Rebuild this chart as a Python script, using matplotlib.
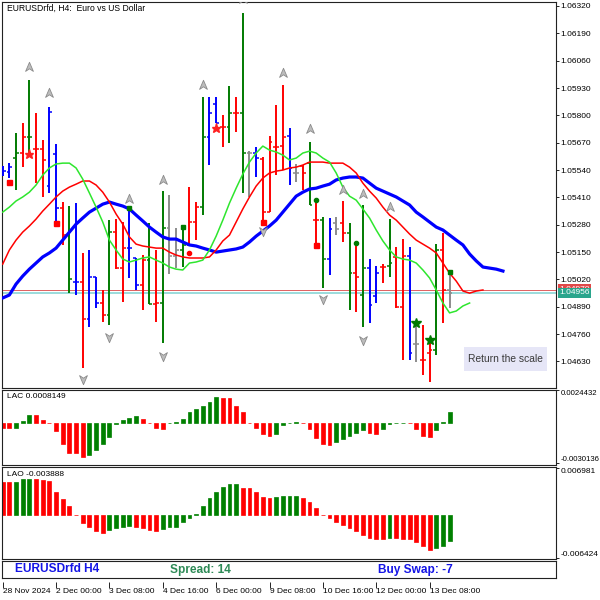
#!/usr/bin/env python3
"""EURUSD H4 bar chart with alligator lines, fractals and AC / AO sub-windows (terminal style)."""
import numpy as np
import matplotlib
matplotlib.use('Agg')
import matplotlib.pyplot as plt
from matplotlib.path import Path
from matplotlib.patches import Rectangle

plt.rcParams['font.family'] = ['Liberation Sans', 'DejaVu Sans']

# ---- price bars: b=blue, g=green, r=red, a=gray ----
bar_color = "bbgrgrrbbr" "gbrbbrgrrb" "brgrgaagrr" "gbbrgrgabr" "rrrbargrgb" "argrgbbrgr" "rbarrgra"
bar_high = [1.05559, 1.05573, 1.05716, 1.05763, 1.05968, 1.05811, 1.05683, 1.05839, 1.05664, 1.05388,
            1.05369, 1.05383, 1.05146, 1.05160, 1.05031, 1.04970, 1.05302, 1.05307, 1.05293, 1.05364,
            1.05122, 1.05136, 1.05288, 1.05160, 1.05440, 1.05421, 1.05264, 1.05255, 1.05459, 1.05388,
            1.05887, 1.05887, 1.05887, 1.05801, 1.05939, 1.05887, 1.06286, 1.05630, 1.05649, 1.05602,
            1.05702, 1.05849, 1.05944, 1.05740, 1.05569, 1.05564, 1.05673, 1.05383, 1.05317, 1.05312,
            1.05317, 1.05393, 1.05288, 1.05184, 1.05374, 1.05117, 1.05084, 1.05093, 1.05307, 1.05174,
            1.05212, 1.05174, 1.04818, 1.04803, 1.04723, 1.05188, 1.05241, 1.05060]
bar_low = [1.05512, 1.05502, 1.05445, 1.05554, 1.05611, 1.05478, 1.05412, 1.05431, 1.05293, 1.05184,
           1.04955, 1.04946, 1.04599, 1.04794, 1.04884, 1.04818, 1.04803, 1.05069, 1.04913, 1.05027,
           1.04970, 1.04875, 1.04903, 1.04818, 1.04718, 1.05046, 1.05074, 1.05079, 1.05184, 1.05207,
           1.05326, 1.05564, 1.05763, 1.05649, 1.05668, 1.05721, 1.05431, 1.05412, 1.05507, 1.05302,
           1.05340, 1.05516, 1.05540, 1.05469, 1.05483, 1.05445, 1.05374, 1.05174, 1.04979, 1.05041,
           1.05231, 1.05198, 1.04875, 1.04865, 1.04794, 1.04813, 1.04908, 1.05003, 1.05031, 1.04884,
           1.04637, 1.04637, 1.04627, 1.04566, 1.04532, 1.04661, 1.04813, 1.04884]
bar_open = [1.05535, 1.05530, 1.05597, 1.05621, 1.05697, 1.05640, 1.05640, 1.05464, 1.05616, 1.05359,
            1.05231, 1.05008, 1.05008, 1.04832, 1.05031, 1.04908, 1.04851, 1.05245, 1.05074, 1.05169,
            1.05122, 1.04993, 1.05112, 1.04903, 1.04908, 1.05264, 1.05131, 1.05160, 1.05184, 1.05293,
            1.05364, 1.05697, 1.05854, 1.05744, 1.05744, 1.05811, 1.05811, 1.05621, 1.05621, 1.05592,
            1.05340, 1.05649, 1.05654, 1.05702, 1.05526, 1.05559, 1.05573, 1.05302, 1.05302, 1.05117,
            1.05288, 1.05288, 1.05241, 1.05050, 1.04946, 1.05074, 1.04941, 1.05079, 1.05084, 1.05127,
            1.04889, 1.05131, 1.04713, 1.04637, 1.04670, 1.04684, 1.05160, 1.04970]
bar_close = [1.05535, 1.05554, 1.05621, 1.05697, 1.05697, 1.05640, 1.05588, 1.05816, 1.05359, 1.05231,
             1.05022, 1.05008, 1.04832, 1.05031, 1.04908, 1.04851, 1.05245, 1.05074, 1.05169, 1.05169,
             1.04993, 1.05112, 1.04903, 1.04908, 1.05264, 1.05131, 1.05160, 1.05184, 1.05293, 1.05364,
             1.05697, 1.05811, 1.05763, 1.05744, 1.05811, 1.05811, 1.05621, 1.05621, 1.05597, 1.05340,
             1.05673, 1.05649, 1.05697, 1.05550, 1.05526, 1.05526, 1.05374, 1.05302, 1.05117, 1.05260,
             1.05260, 1.05241, 1.05050, 1.05031, 1.05074, 1.04898, 1.05050, 1.05079, 1.05098, 1.04889,
             1.05131, 1.04670, 1.04713, 1.04637, 1.04684, 1.05160, 1.04970, 1.04955]

# ---- alligator (jaw / teeth / lips, already shifted forward) ----
jaw = [1.04932, 1.04946, 1.04998, 1.05036, 1.05069, 1.05098, 1.05127, 1.05146, 1.05169, 1.05207,
       1.05245, 1.05283, 1.05312, 1.05340, 1.05359, 1.05378, 1.05388, 1.05378, 1.05369, 1.05355,
       1.05326, 1.05298, 1.05269, 1.05245, 1.05222, 1.05212, 1.05212, 1.05198, 1.05184, 1.05179,
       1.05169, 1.05160, 1.05150, 1.05155, 1.05160, 1.05165, 1.05174, 1.05198, 1.05226, 1.05250,
       1.05274, 1.05302, 1.05340, 1.05378, 1.05416, 1.05435, 1.05450, 1.05454, 1.05464, 1.05473,
       1.05493, 1.05502, 1.05507, 1.05507, 1.05502, 1.05478, 1.05454, 1.05440, 1.05426, 1.05412,
       1.05393, 1.05374, 1.05340, 1.05317, 1.05293, 1.05269, 1.05255, 1.05231, 1.05207, 1.05184,
       1.05141, 1.05108, 1.05079, 1.05074, 1.05069, 1.05060]
teeth = [1.05093, 1.05160, 1.05207, 1.05245, 1.05274, 1.05307, 1.05345, 1.05378, 1.05412, 1.05440,
         1.05459, 1.05473, 1.05488, 1.05488, 1.05469, 1.05435, 1.05388, 1.05331, 1.05283, 1.05222,
         1.05188, 1.05179, 1.05174, 1.05169, 1.05169, 1.05150, 1.05136, 1.05127, 1.05122, 1.05122,
         1.05122, 1.05127, 1.05160, 1.05203, 1.05231, 1.05293, 1.05355, 1.05412, 1.05464, 1.05502,
         1.05526, 1.05535, 1.05540, 1.05550, 1.05554, 1.05564, 1.05578, 1.05578, 1.05578, 1.05573,
         1.05573, 1.05573, 1.05554, 1.05526, 1.05478, 1.05440, 1.05407, 1.05364, 1.05326, 1.05302,
         1.05269, 1.05236, 1.05207, 1.05188, 1.05169, 1.05146, 1.05098, 1.05050, 1.05012, 1.04965,
         1.04955, 1.04965, 1.04970]
lips = [1.05340, 1.05364, 1.05393, 1.05412, 1.05435, 1.05469, 1.05516, 1.05550, 1.05569, 1.05573,
        1.05573, 1.05550, 1.05497, 1.05431, 1.05364, 1.05293, 1.05207, 1.05160, 1.05117, 1.05103,
        1.05112, 1.05122, 1.05127, 1.05112, 1.05098, 1.05079, 1.05069, 1.05065, 1.05098, 1.05103,
        1.05112, 1.05160, 1.05226, 1.05302, 1.05383, 1.05454, 1.05521, 1.05578, 1.05621, 1.05654,
        1.05635, 1.05626, 1.05611, 1.05588, 1.05597, 1.05621, 1.05630, 1.05621, 1.05597, 1.05578,
        1.05526, 1.05459, 1.05416, 1.05397, 1.05355, 1.05312, 1.05255, 1.05203, 1.05160, 1.05127,
        1.05117, 1.05112, 1.05098, 1.05065, 1.05027, 1.04970, 1.04908, 1.04861, 1.04870, 1.04894,
        1.04908]

# ---- signals ----
fractal_up_x = [4, 7, 19, 24, 30, 36, 42, 46, 51, 54, 58]
fractal_up_y = [1.06030, 1.05906, 1.05402, 1.05493, 1.05944, 1.06352, 1.06001, 1.05735, 1.05445, 1.05426, 1.05364]
fractal_dn_x = [12, 16, 24, 39, 48, 54]
fractal_dn_y = [1.04547, 1.04746, 1.04656, 1.05250, 1.04927, 1.04732]
red_square_x = [1, 8, 39, 47]
red_square_y = [1.05483, 1.05288, 1.05293, 1.05184]
red_star_x = [4, 32]
red_star_y = [1.05616, 1.05740]
green_star_x = [62, 64]
green_star_y = [1.04813, 1.04732]
green_square_x = [19, 27, 67]
green_square_y = [1.05359, 1.05269, 1.05055]
green_dot_x = [47, 53]
green_dot_y = [1.05397, 1.05193]
red_dot_x = [28]
red_dot_y = [1.05146]

ask_price = 1.04970
bid_price = 1.04956
price_ticks = [1.06320, 1.06190, 1.06060, 1.05930, 1.05800, 1.05670, 1.05540,
               1.05410, 1.05280, 1.05150, 1.05020, 1.04890, 1.04760, 1.04630]

# ---- accelerator (AC) and awesome (AO) oscillators ----
ac_values = [-0.00037, -0.00042, -0.00037, 0.00012, 0.00055, 0.00054, 0.00020, -0.00005, -0.00062, -0.00162,
             -0.00224, -0.00229, -0.00256, -0.00242, -0.00204, -0.00157, -0.00105, -0.00007, 0.00017, 0.00037,
             0.00050, 0.00025, -0.00005, -0.00037, -0.00045, -0.00005, 0.00005, 0.00030, 0.00082, 0.00100,
             0.00125, 0.00157, 0.00194, 0.00182, 0.00181, 0.00125, 0.00080, -0.00002, -0.00037, -0.00082,
             -0.00100, -0.00082, -0.00020, -0.00005, 0.00002, -0.00002, -0.00045, -0.00112, -0.00162, -0.00169,
             -0.00144, -0.00125, -0.00100, -0.00075, -0.00055, -0.00075, -0.00085, -0.00050, -0.00007, -0.00005,
             -0.00003, -0.00004, -0.00045, -0.00100, -0.00107, -0.00055, 0.00007, 0.00081]
ac_color = "rrgggrrrrr" "rrrggggggg" "grrrrggggg" "gggrrrrrrr" "rggggrrrrr" "gggggrrggg" "grrrrggg"
ao_values = [0.00496, 0.00491, 0.00496, 0.00531, 0.00532, 0.00528, 0.00521, 0.00506, 0.00347, 0.00233,
             0.00139, -0.00002, -0.00114, -0.00174, -0.00238, -0.00273, -0.00223, -0.00198, -0.00174, -0.00164,
             -0.00174, -0.00198, -0.00223, -0.00233, -0.00208, -0.00188, -0.00174, -0.00109, -0.00050, 0.00015,
             0.00139, 0.00248, 0.00347, 0.00412, 0.00456, 0.00461, 0.00407, 0.00397, 0.00337, 0.00273,
             0.00248, 0.00273, 0.00278, 0.00280, 0.00283, 0.00248, 0.00198, 0.00099, -0.00002, -0.00050,
             -0.00099, -0.00149, -0.00198, -0.00233, -0.00298, -0.00347, -0.00357, -0.00362, -0.00347, -0.00350,
             -0.00352, -0.00357, -0.00397, -0.00471, -0.00521, -0.00496, -0.00461, -0.00389]
ao_color = "rrgggrrrrr" "rrrrrrgggg" "rrrrgggggg" "ggggggrrrr" "rggggrrrrr" "rrrrrrrrgr" "rrrrrggg"

time_tick_bars = [0, 8, 16, 24, 32, 40, 48, 56, 64]
time_tick_labels = ['28 Nov 2024', '2 Dec 00:00', '3 Dec 08:00', '4 Dec 16:00', '6 Dec 00:00',
                    '9 Dec 08:00', '10 Dec 16:00', '12 Dec 00:00', '13 Dec 08:00']

BAR_COLORS = {'b': '#0000ff', 'g': '#007a00', 'r': '#ff0000', 'a': '#8c8c8c'}
OSC_COLORS = {'g': '#008000', 'r': '#ff0000'}
W = H = 600
BAR_PX = 6.67     # pixels per bar
FIRST_PX = 2.7    # pixel of bar 0
LEFT, RIGHT = 2, 556


def px_rect(x0, y0, x1, y1):
    return [x0 / W, 1 - y1 / H, (x1 - x0) / W, (y1 - y0) / H]


def frame(ax, labelsize=6):
    for s in ax.spines.values():
        s.set_color('#222222')
        s.set_linewidth(0.8)
    ax.set_xlim((LEFT - FIRST_PX) / BAR_PX, (RIGHT - FIRST_PX) / BAR_PX)
    ax.set_xticks([])
    ax.tick_params(axis='y', left=False, right=True, labelleft=False, labelright=True,
                   length=2.2, width=0.6, pad=1.2, labelsize=labelsize, colors='black')


arrow_up = Path([(0, 1), (0.75, -0.75), (0, -0.25), (-0.75, -0.75), (0, 1)],
                [Path.MOVETO, Path.LINETO, Path.LINETO, Path.LINETO, Path.CLOSEPOLY])
arrow_dn = Path([(0, -1), (0.75, 0.75), (0, 0.25), (-0.75, 0.75), (0, -1)],
                [Path.MOVETO, Path.LINETO, Path.LINETO, Path.LINETO, Path.CLOSEPOLY])

fig = plt.figure(figsize=(6, 6), dpi=100)

# ---------- main price window ----------
ax = fig.add_axes(px_rect(LEFT, 2, RIGHT, 388))
frame(ax)
ax.set_ylim(1.04504, 1.06339)
ax.set_yticks(price_ticks)
ax.set_yticklabels(['%.5f' % p for p in price_ticks])

ax.axhline(ask_price, color='#e06060', lw=0.7, zorder=1)
ax.axhline(bid_price, color='#8ad6d6', lw=1.2, zorder=1)

x = np.arange(len(bar_open))
cols = [BAR_COLORS[c] for c in bar_color]
ax.vlines(x, bar_low, bar_high, colors=cols, lw=1.4, zorder=3)
ax.hlines(bar_open, x - 0.42, x, colors=cols, lw=1.1, zorder=3)
ax.hlines(bar_close, x, x + 0.42, colors=cols, lw=1.1, zorder=3)

ax.plot(np.arange(len(jaw)), jaw, color='#0000ff', lw=2.3, zorder=4)
ax.plot(np.arange(len(teeth)), teeth, color='#ff0000', lw=1.1, zorder=4)
ax.plot(np.arange(len(lips)), lips, color='#2ee62e', lw=1.1, zorder=4)

ax.plot(fractal_up_x, fractal_up_y, ls='none', marker=arrow_up, ms=7.5,
        mfc='#bdbdbd', mec='#8a8a8a', mew=0.6, zorder=5)
ax.plot(fractal_dn_x, fractal_dn_y, ls='none', marker=arrow_dn, ms=7.5,
        mfc='#bdbdbd', mec='#8a8a8a', mew=0.6, zorder=5)
ax.plot(red_square_x, red_square_y, ls='none', marker='s', ms=3.6, color='#ff0000', zorder=5)
ax.plot(red_star_x, red_star_y, ls='none', marker='*', ms=6.5, color='#ff2020', zorder=5)
ax.plot(green_star_x, green_star_y, ls='none', marker='*', ms=7, color='#007a00', zorder=5)
ax.plot(green_square_x, green_square_y, ls='none', marker='s', ms=3, color='#007a00', zorder=5)
ax.plot(green_dot_x, green_dot_y, ls='none', marker='o', ms=3, color='#007a00', zorder=5)
ax.plot(red_dot_x, red_dot_y, ls='none', marker='o', ms=3, color='#ff0000', zorder=5)

ax.text(5 / 554, 1 - 6 / 386, 'EURUSDrfd, H4:  Euro vs US Dollar', transform=ax.transAxes,
        fontsize=6.2, va='center', ha='left')

# ask label sits mostly hidden behind the bid label, as in the terminal
ytr = ax.get_yaxis_transform()
ax.text(1.0063, ask_price + 0.00004, '%.5f' % ask_price, transform=ytr, fontsize=6, color='white',
        va='center', ha='left', clip_on=False,
        bbox=dict(boxstyle='square,pad=0.18', fc='#e04848', ec='none'))
ax.text(1.0063, bid_price, '%.5f' % bid_price, transform=ytr, fontsize=6, color='white',
        va='center', ha='left', clip_on=False, zorder=6,
        bbox=dict(boxstyle='square,pad=0.18', fc='#2aa58c', ec='none'))

ax.add_patch(Rectangle(((464 - LEFT) / 554, 1 - (371 - 2) / 386), 83 / 554, 24 / 386,
                       transform=ax.transAxes, fc='#e6e6f7', ec='none', zorder=6))
ax.text((505.5 - LEFT) / 554, 1 - (359 - 2) / 386, 'Return the scale', transform=ax.transAxes,
        fontsize=7.4, color='#3a3a3a', ha='center', va='center', zorder=7)

# ---------- AC window ----------
ax_ac = fig.add_axes(px_rect(LEFT, 390, RIGHT, 465))
frame(ax_ac, labelsize=5.6)
ax_ac.set_ylim(-0.0031631, 0.0024432)
ac_cols = [OSC_COLORS[c] for c in ac_color]
ax_ac.bar(np.arange(len(ac_values)), ac_values, width=0.58, color=ac_cols, edgecolor=ac_cols, linewidth=0.5)
ax_ac.set_yticks([0.0024432, -0.0030136])
ax_ac.set_yticklabels(['0.0024432', '-0.0030136'])
lab = ax_ac.get_yticklabels()
lab[0].set_va('top')
lab[1].set_va('bottom')
ax_ac.text(5 / 554, 1 - 7 / 75, 'LAC 0.0008149', transform=ax_ac.transAxes, fontsize=6, va='center')

# ---------- AO window ----------
ax_ao = fig.add_axes(px_rect(LEFT, 467, RIGHT, 559))
frame(ax_ao)
ax_ao.set_ylim(-0.006573, 0.007130)
ao_cols = [OSC_COLORS[c] for c in ao_color]
ax_ao.bar(np.arange(len(ao_values)), ao_values, width=0.58, color=ao_cols, edgecolor=ao_cols, linewidth=0.5)
ax_ao.set_yticks([0.006981, -0.006424])
ax_ao.set_yticklabels(['0.006981', '-0.006424'])
lab = ax_ao.get_yticklabels()
lab[0].set_va('top')
lab[1].set_va('bottom')
ax_ao.text(5 / 554, 1 - 7 / 92, 'LAO -0.003888', transform=ax_ao.transAxes, fontsize=6, va='center')

# ---------- info strip ----------
ax_in = fig.add_axes(px_rect(LEFT, 561, RIGHT, 578))
frame(ax_in)
ax_in.set_yticks([])
ax_in.text((15 - LEFT) / 554, 0.5, 'EURUSDrfd H4', transform=ax_in.transAxes, fontsize=8.6,
           fontweight='bold', color='#1515e6', va='center', ha='left')
ax_in.text((170 - LEFT) / 554, 0.5, 'Spread: 14', transform=ax_in.transAxes, fontsize=8.6,
           fontweight='bold', color='#2e8b57', va='center', ha='left')
ax_in.text((378 - LEFT) / 554, 0.5, 'Buy Swap: -7', transform=ax_in.transAxes, fontsize=8.6,
           fontweight='bold', color='#1515e6', va='center', ha='left')

# ---------- time scale ----------
ax_t = fig.add_axes(px_rect(LEFT, 581, RIGHT, 582))
ax_t.set_xlim((LEFT - FIRST_PX) / BAR_PX, (RIGHT - FIRST_PX) / BAR_PX)
for s in ax_t.spines.values():
    s.set_visible(False)
ax_t.set_yticks([])
ax_t.set_xticks(time_tick_bars)
ax_t.set_xticklabels(time_tick_labels, ha='left')
ax_t.tick_params(axis='x', length=4, width=0.6, pad=0.5, labelsize=6, colors='black')
ax_t.patch.set_alpha(0)

fig.savefig('out.png', dpi=100, facecolor='white')
